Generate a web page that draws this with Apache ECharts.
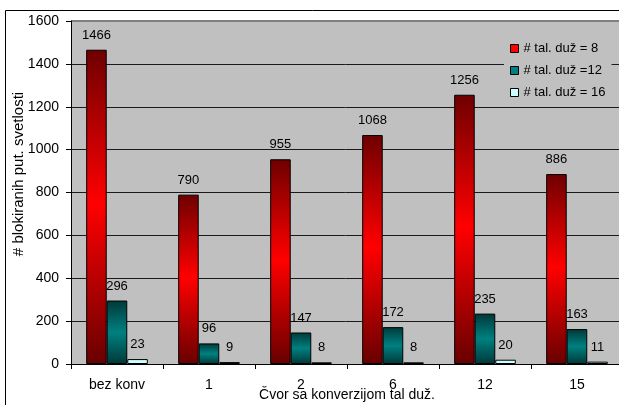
<!DOCTYPE html>
<html>
<head>
<meta charset="utf-8">
<script src="https://cdn.jsdelivr.net/npm/echarts@6/dist/echarts.min.js"></script>
<style>
  html, body { margin: 0; padding: 0; background: #fff; }
  #chart { width: 619px; height: 405px; }
</style>
</head>
<body>
<div id="chart"></div>
<script>
// Blocked light paths per conversion node, for three wavelength counts
const categories = ['bez konv', '1', '2', '6', '12', '15'];
const seriesNames = ['# tal. duž = 8', '# tal. duž =12', '# tal. duž = 16'];
const valuesW8 = [1466, 790, 955, 1068, 1256, 886];
const valuesW12 = [296, 96, 147, 172, 235, 163];
const valuesW16 = [23, 9, 8, 8, 20, 11];
const yTicks = { min: 0, max: 1600, step: 200 };

const FONT = 'Arial, "Liberation Sans", sans-serif';

function vGrad(stops) {
  return new echarts.graphic.LinearGradient(0, 0, 0, 1,
    stops.map(s => ({ offset: s[0], color: s[1] })));
}

const redFill = vGrad([[0, '#6e0000'], [0.49, '#ff0000'], [1, '#680000']]);
const tealFill = vGrad([[0, '#003838'], [0.5, '#008080'], [1, '#003838']]);
const lightFill = '#ccffff';

function barSeries(name, data, fill) {
  return {
    name: name,
    type: 'bar',
    data: data,
    barGap: '0%',
    barCategoryGap: '33%',
    itemStyle: { color: fill, borderColor: '#000', borderWidth: 1 },
    label: {
      show: true,
      position: 'top',
      distance: 8,
      color: '#000',
      fontFamily: FONT,
      fontSize: 13
    }
  };
}

const chart = echarts.init(document.getElementById('chart'), null, { renderer: 'canvas' });

chart.setOption({
  backgroundColor: '#fff',
  animation: false,
  grid: {
    left: 71, top: 21, right: -4, bottom: 41,
    outerBoundsMode: 'none',
    containLabel: false,
    show: true, backgroundColor: '#c0c0c0', borderWidth: 0
  },
  legend: {
    orient: 'vertical',
    left: 504,
    top: 38,
    padding: [4, 6, 4, 6],
    itemGap: 9,
    itemWidth: 8,
    itemHeight: 8,
    backgroundColor: '#c0c0c0',
    textStyle: { color: '#000', fontFamily: FONT, fontSize: 13 },
    data: [
      { name: seriesNames[0], icon: 'rect', itemStyle: { color: '#ff0000', borderColor: '#000', borderWidth: 1 } },
      { name: seriesNames[1], icon: 'rect', itemStyle: { color: '#008080', borderColor: '#000', borderWidth: 1 } },
      { name: seriesNames[2], icon: 'rect', itemStyle: { color: '#ccffff', borderColor: '#000', borderWidth: 1 } }
    ]
  },
  xAxis: {
    type: 'category',
    data: categories,
    name: 'Čvor sa konverzijom tal duž.',
    nameLocation: 'middle',
    nameGap: 24,
    nameMoveOverlap: false,
    nameTextStyle: { color: '#000', fontFamily: FONT, fontSize: 14 },
    axisLine: { show: true, lineStyle: { color: '#000', width: 1 } },
    axisTick: { show: true, length: 5, lineStyle: { color: '#000' } },
    axisLabel: { color: '#000', fontFamily: FONT, fontSize: 14, margin: 14 }
  },
  yAxis: {
    type: 'value',
    min: yTicks.min,
    max: yTicks.max,
    interval: yTicks.step,
    axisLine: { show: true, lineStyle: { color: '#000', width: 1 } },
    axisTick: { show: true, length: 5, lineStyle: { color: '#000' } },
    axisLabel: {
      color: '#000', fontFamily: FONT, fontSize: 14, margin: 12,
      formatter: v => String(v)
    },
    splitLine: {
      show: true,
      lineStyle: {
        color: ['#000', '#1a1a1a', '#1a1a1a', '#1a1a1a', '#1a1a1a', '#1a1a1a', '#1a1a1a', '#1a1a1a', '#808080'],
        width: 1
      }
    }
  },
  graphic: [
    {
      type: 'text',
      x: 19,
      y: 174,
      rotation: Math.PI / 2,
      style: {
        text: '# blokiranih put. svetlosti',
        fill: '#000',
        font: '15px ' + FONT,
        textAlign: 'center',
        textVerticalAlign: 'middle'
      }
    },
    {
      type: 'rect',
      shape: { x: 5.5, y: 10.5, width: 700, height: 500 },
      style: { fill: 'none', stroke: '#000', lineWidth: 1 },
      silent: true
    },
    {
      type: 'line',
      shape: { x1: 71, y1: 21, x2: 619, y2: 21 },
      style: { stroke: '#808080', lineWidth: 2 },
      silent: true
    }
  ],
  series: [
    barSeries(seriesNames[0], valuesW8, redFill),
    barSeries(seriesNames[1], valuesW12, tealFill),
    barSeries(seriesNames[2], valuesW16, lightFill)
  ]
});
</script>
</body>
</html>
